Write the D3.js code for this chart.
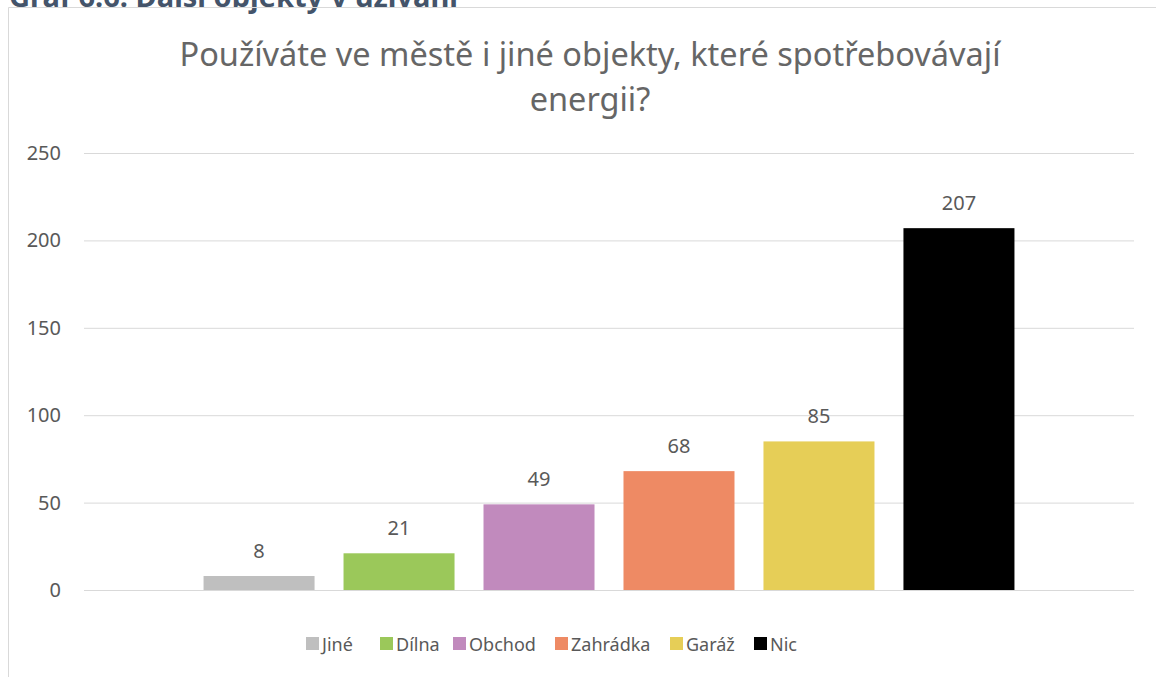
<!DOCTYPE html>
<html>
<head>
<meta charset="UTF-8">
<title>Další objekty v užívání</title>
<script src="https://d3js.org/d3.v7.min.js"></script>
<style>
  body { margin: 0; background: #fff; }
  text { font-family: "Noto Sans", "Open Sans", sans-serif; }
  .tick text { fill: #595959; font-size: 20px; }
  .grid line { stroke: #d9d9d9; }
</style>
</head>
<body>
<script>
var categories = ["Jiné", "Dílna", "Obchod", "Zahrádka", "Garáž", "Nic"];
var values = [8, 21, 49, 68, 85, 207];
var colors = ["#bfbfbf", "#9bc85a", "#c18abd", "#ee8a64", "#e6ce57", "#000000"];
var yTicks = [0, 50, 100, 150, 200, 250];

var W = 1156, H = 677;
var margin = {top: 153, right: 22, bottom: 87, left: 84};
var width = W - margin.left - margin.right,
    height = H - margin.top - margin.bottom;

var svg = d3.select("body").append("svg")
    .attr("width", W)
    .attr("height", H);

// caption cut off at the top of the page
svg.append("text")
    .attr("x", 458).attr("y", 7)
    .attr("text-anchor", "end")
    .style("font-size", "29px")
    .style("font-weight", "bold")
    .style("fill", "#44546a")
    .text("Graf 6.6: Další objekty v užívání");

// chart frame
svg.append("path")
    .attr("d", "M8.5," + H + "V7.5H" + W)
    .attr("fill", "none")
    .attr("stroke", "#d9d9d9");

svg.append("text")
    .attr("x", 590).attr("y", 66)
    .attr("text-anchor", "middle")
    .style("font-size", "32.5px")
    .style("fill", "#666666")
    .text("Používáte ve městě i jiné objekty, které spotřebovávají");
svg.append("text")
    .attr("x", 590).attr("y", 111)
    .attr("text-anchor", "middle")
    .style("font-size", "32.5px")
    .style("fill", "#666666")
    .text("energii?");

var g = svg.append("g")
    .attr("transform", "translate(" + margin.left + "," + margin.top + ")");

var x = d3.scaleBand()
    .domain(categories)
    .range([0, width])
    .paddingInner(0.207)
    .paddingOuter(0.854);

var y = d3.scaleLinear()
    .domain([0, 250])
    .range([height, 0]);

g.append("g")
    .attr("class", "grid")
    .call(d3.axisLeft(y).tickValues(yTicks).tickSize(-width).tickFormat(""))
    .call(function (s) { s.select(".domain").remove(); });

g.append("g")
    .call(d3.axisLeft(y).tickValues(yTicks).tickSize(0).tickPadding(23))
    .call(function (s) { s.select(".domain").remove(); });

g.selectAll(".bar")
    .data(values)
    .enter().append("rect")
    .attr("class", "bar")
    .attr("x", function (d, i) { return x(categories[i]); })
    .attr("width", x.bandwidth())
    .attr("y", function (d) { return y(d); })
    .attr("height", function (d) { return height - y(d); })
    .attr("fill", function (d, i) { return colors[i]; });

g.selectAll(".label")
    .data(values)
    .enter().append("text")
    .attr("class", "label")
    .attr("x", function (d, i) { return x(categories[i]) + x.bandwidth() / 2; })
    .attr("y", function (d) { return y(d) - 18; })
    .attr("text-anchor", "middle")
    .style("font-size", "20px")
    .style("fill", "#595959")
    .text(function (d) { return d; });

// legend
var legendX = [306, 380, 453, 555, 670, 754];
var legend = svg.selectAll(".legend")
    .data(categories)
    .enter().append("g")
    .attr("transform", function (d, i) { return "translate(" + legendX[i] + ",637)"; });
legend.append("rect")
    .attr("width", 13).attr("height", 13)
    .attr("fill", function (d, i) { return colors[i]; });
legend.append("text")
    .attr("x", 16).attr("y", 14)
    .style("font-size", "18px")
    .style("fill", "#595959")
    .text(function (d) { return d; });
</script>
</body>
</html>
